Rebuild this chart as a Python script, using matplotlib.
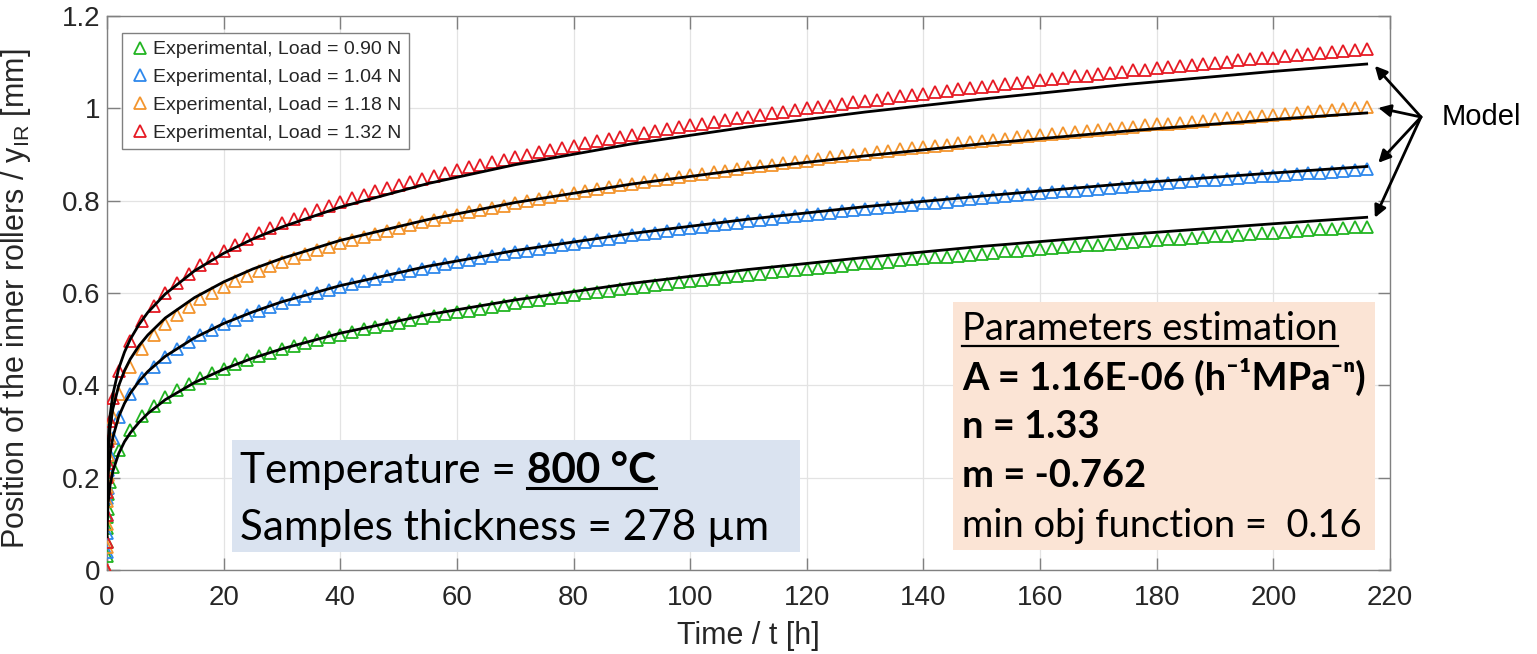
import matplotlib.pyplot as plt
from matplotlib.patches import Rectangle
from matplotlib.lines import Line2D
from matplotlib.ticker import MultipleLocator, FormatStrFormatter

plt.rcParams['font.family'] = ['Liberation Sans', 'DejaVu Sans']
plt.rcParams['mathtext.fontset'] = 'custom'
plt.rcParams['mathtext.rm'] = 'Liberation Sans'

# ---- data ----
# experimental time points [h]
t_exp = [0, 0.005, 0.01, 0.02, 0.05, 0.1, 0.25, 0.5, 1] + list(range(2, 217, 2))

y_090 = [0.0, 0.03, 0.06, 0.09, 0.114, 0.133, 0.164, 0.191, 0.223,
         0.261, 0.304, 0.333, 0.356, 0.374, 0.389, 0.403, 0.415, 0.426, 0.436,
         0.446, 0.455, 0.463, 0.471, 0.478, 0.485, 0.492, 0.498, 0.504, 0.510,
         0.515, 0.521, 0.526, 0.531, 0.536, 0.541, 0.545, 0.550, 0.554, 0.558,
         0.562, 0.566, 0.570, 0.574, 0.578, 0.582, 0.585, 0.589, 0.592, 0.595,
         0.599, 0.602, 0.605, 0.608, 0.611, 0.614, 0.617, 0.620, 0.623, 0.626,
         0.629, 0.631, 0.634, 0.637, 0.639, 0.642, 0.645, 0.647, 0.650, 0.652,
         0.654, 0.657, 0.659, 0.662, 0.664, 0.666, 0.668, 0.671, 0.673, 0.675,
         0.677, 0.679, 0.681, 0.683, 0.685, 0.687, 0.690, 0.692, 0.693, 0.695,
         0.697, 0.699, 0.701, 0.703, 0.705, 0.707, 0.709, 0.710, 0.712, 0.714,
         0.716, 0.718, 0.719, 0.721, 0.723, 0.724, 0.726, 0.728, 0.729, 0.731,
         0.733, 0.734, 0.736, 0.738, 0.739, 0.741, 0.742, 0.744]

y_104 = [0.0, 0.04, 0.08, 0.12, 0.155, 0.178, 0.216, 0.249, 0.287,
         0.331, 0.382, 0.415, 0.440, 0.461, 0.479, 0.494, 0.508, 0.520, 0.532,
         0.542, 0.552, 0.561, 0.570, 0.578, 0.586, 0.593, 0.600, 0.607, 0.613,
         0.619, 0.625, 0.631, 0.637, 0.642, 0.647, 0.652, 0.657, 0.662, 0.667,
         0.671, 0.676, 0.680, 0.684, 0.688, 0.692, 0.696, 0.700, 0.704, 0.707,
         0.711, 0.714, 0.718, 0.721, 0.725, 0.728, 0.731, 0.734, 0.738, 0.741,
         0.744, 0.747, 0.750, 0.752, 0.755, 0.758, 0.761, 0.764, 0.766, 0.769,
         0.772, 0.774, 0.777, 0.779, 0.782, 0.784, 0.787, 0.789, 0.791, 0.794,
         0.796, 0.798, 0.801, 0.803, 0.805, 0.807, 0.810, 0.812, 0.814, 0.816,
         0.818, 0.820, 0.822, 0.824, 0.826, 0.828, 0.830, 0.832, 0.834, 0.836,
         0.838, 0.840, 0.842, 0.844, 0.845, 0.847, 0.849, 0.851, 0.853, 0.854,
         0.856, 0.858, 0.860, 0.861, 0.863, 0.865, 0.866, 0.868]

y_118 = [0.0, 0.05, 0.10, 0.15, 0.179, 0.206, 0.249, 0.287, 0.331,
         0.382, 0.440, 0.479, 0.508, 0.532, 0.552, 0.570, 0.586, 0.600, 0.614,
         0.626, 0.637, 0.648, 0.658, 0.667, 0.676, 0.684, 0.693, 0.700, 0.708,
         0.715, 0.722, 0.728, 0.735, 0.741, 0.747, 0.753, 0.759, 0.764, 0.769,
         0.775, 0.780, 0.785, 0.789, 0.794, 0.799, 0.803, 0.808, 0.812, 0.816,
         0.821, 0.825, 0.829, 0.833, 0.836, 0.840, 0.844, 0.848, 0.851, 0.855,
         0.858, 0.862, 0.865, 0.868, 0.872, 0.875, 0.878, 0.881, 0.884, 0.887,
         0.890, 0.894, 0.896, 0.899, 0.902, 0.905, 0.908, 0.911, 0.913, 0.916,
         0.919, 0.921, 0.924, 0.927, 0.929, 0.932, 0.934, 0.937, 0.939, 0.942,
         0.944, 0.947, 0.949, 0.951, 0.954, 0.956, 0.958, 0.960, 0.963, 0.965,
         0.967, 0.969, 0.971, 0.973, 0.976, 0.978, 0.980, 0.982, 0.984, 0.986,
         0.988, 0.990, 0.992, 0.994, 0.996, 0.998, 1.000, 1.002]

y_132 = [0.0, 0.06, 0.12, 0.17, 0.201, 0.232, 0.280, 0.323, 0.373,
         0.430, 0.496, 0.539, 0.572, 0.599, 0.622, 0.642, 0.660, 0.676, 0.691,
         0.705, 0.718, 0.729, 0.741, 0.751, 0.761, 0.771, 0.780, 0.789, 0.797,
         0.805, 0.813, 0.820, 0.828, 0.835, 0.841, 0.848, 0.854, 0.860, 0.867,
         0.872, 0.878, 0.884, 0.889, 0.895, 0.900, 0.905, 0.910, 0.915, 0.919,
         0.924, 0.929, 0.933, 0.938, 0.942, 0.946, 0.951, 0.955, 0.959, 0.963,
         0.967, 0.970, 0.974, 0.978, 0.982, 0.985, 0.989, 0.993, 0.996, 1.000,
         1.003, 1.006, 1.010, 1.013, 1.016, 1.019, 1.022, 1.026, 1.029, 1.032,
         1.035, 1.038, 1.041, 1.044, 1.047, 1.049, 1.052, 1.055, 1.058, 1.061,
         1.063, 1.066, 1.069, 1.071, 1.074, 1.077, 1.079, 1.082, 1.084, 1.087,
         1.089, 1.092, 1.094, 1.096, 1.099, 1.101, 1.104, 1.106, 1.108, 1.110,
         1.113, 1.115, 1.117, 1.119, 1.122, 1.124, 1.126, 1.128]

# model curves (black lines)
t_mod = [0.01, 0.05, 0.2, 0.5, 1, 2, 3, 4, 5.5, 7, 10, 15, 20, 25, 30, 40,
         55, 70, 90, 110, 130, 150, 175, 200, 216]
m_090 = [0.072, 0.105, 0.146, 0.182, 0.214, 0.252, 0.278, 0.297, 0.320, 0.339,
         0.369, 0.406, 0.435, 0.459, 0.479, 0.513, 0.553, 0.585, 0.621, 0.651,
         0.677, 0.701, 0.727, 0.750, 0.764]
m_104 = [0.111, 0.155, 0.206, 0.249, 0.287, 0.332, 0.361, 0.383, 0.409, 0.430,
         0.463, 0.503, 0.534, 0.559, 0.581, 0.616, 0.658, 0.692, 0.729, 0.760,
         0.787, 0.810, 0.837, 0.860, 0.874]
m_118 = [0.143, 0.195, 0.255, 0.305, 0.349, 0.399, 0.432, 0.457, 0.486, 0.509,
         0.546, 0.590, 0.624, 0.652, 0.675, 0.714, 0.759, 0.796, 0.836, 0.869,
         0.897, 0.923, 0.951, 0.976, 0.990]
m_132 = [0.154, 0.211, 0.277, 0.332, 0.380, 0.436, 0.472, 0.500, 0.532, 0.558,
         0.598, 0.648, 0.686, 0.717, 0.743, 0.786, 0.837, 0.878, 0.923, 0.960,
         0.992, 1.020, 1.052, 1.080, 1.096]

loads = ['0.90', '1.04', '1.18', '1.32']
colors = ['#22B522', '#2E88EC', '#F3952E', '#E61A24']

# ---- figure ----
W, H = 1537, 654
fig = plt.figure(figsize=(W / 100, H / 100), dpi=100)


def fx(px):
    return px / W


def fy(py):
    return 1 - py / H


ax = fig.add_axes([fx(107), fy(570), (1390 - 107) / W, (570 - 16) / H])

exp_series = [y_090, y_104, y_118, y_132]
mod_series = [m_090, m_104, m_118, m_132]
for ys, c, ld in zip(exp_series, colors, loads):
    ax.plot(t_exp, ys, linestyle='none', marker='^', ms=9, mfc='none',
            mec=c, mew=1.3, label='Experimental, Load = %s N' % ld, zorder=3)
for ym in mod_series:
    ax.plot(t_mod, ym, color='k', lw=2.0, zorder=4)

ax.set_xlim(0, 220)
ax.set_ylim(0, 1.2)
ax.xaxis.set_major_locator(MultipleLocator(20))
ax.yaxis.set_major_locator(MultipleLocator(0.2))
ax.yaxis.set_major_formatter(FormatStrFormatter('%g'))
ax.grid(True, color='#e3e3e3', lw=0.9)
ax.set_axisbelow(True)
for s in ax.spines.values():
    s.set_color('#808080')
    s.set_linewidth(1.0)
ax.tick_params(direction='in', length=9, width=1, color='#808080',
               labelcolor='#262626', labelsize=20, top=True, right=True)
ax.tick_params(axis='x', pad=11)
ax.tick_params(axis='y', pad=5)

ax.set_xlabel('Time / t [h]', fontsize=22, color='#262626')
ax.set_ylabel('Position of the inner rollers / y$_\\mathregular{IR}$ [mm]',
              fontsize=22, color='#262626')
ax.xaxis.set_label_coords(0.5, -0.092)
ax.yaxis.set_label_coords(-0.058, 0.49)

leg = ax.legend(loc='upper left', bbox_to_anchor=((122 - 107) / 1283, (570 - 33) / 554),
                borderaxespad=0, fontsize=14, handlelength=1.0, handletextpad=0.2,
                borderpad=0.4, labelspacing=0.52, fancybox=False, framealpha=1,
                edgecolor='#808080', numpoints=1)
leg.get_frame().set_linewidth(1.0)
for txt in leg.get_texts():
    txt.set_color('#262626')

# ---- text boxes ----
box_font = ['Lato', 'DejaVu Sans']
fig.add_artist(Rectangle((fx(232), fy(552)), (800 - 232) / W, (552 - 440) / H,
                         transform=fig.transFigure, fc='#DAE3F0', ec='none', zorder=2))
fig.add_artist(Rectangle((fx(953), fy(550)), (1375 - 953) / W, (550 - 302) / H,
                         transform=fig.transFigure, fc='#FBE4D5', ec='none', zorder=2))

t_temp = fig.text(fx(240), fy(483), 'Temperature =', fontsize=34, family=box_font,
                  va='baseline', zorder=5)
t_temp2 = fig.text(fx(560), fy(483), '800 °C', fontsize=34, family=box_font,
                   fontweight='bold', va='baseline', zorder=5)
t_thick = fig.text(fx(240), fy(540), 'Samples thickness = 278 µm', fontsize=34,
                   family=box_font, va='baseline', zorder=5)

param_lines = [('Parameters estimation', 'normal', 340),
               ('A = 1.16E-06 (h\u207b\u00b9MPa\u207b\u207f)', 'bold', 390),
               ('n = 1.33', 'bold', 438),
               ('m = -0.762', 'bold', 487),
               ('min obj function =  0.16', 'normal', 537)]
p_texts = []
for s, wt, yb in param_lines:
    p_texts.append(fig.text(fx(962), fy(yb), s, fontsize=25, family=box_font,
                            fontweight=wt, va='baseline', zorder=5))

# scale box fonts to the widths seen in the picture
fig.canvas.draw()
r = fig.canvas.get_renderer()
k1 = 530 / t_thick.get_window_extent(r).width
for t in (t_temp, t_temp2, t_thick):
    t.set_fontsize(t.get_fontsize() * k1)
k2 = 377 / p_texts[0].get_window_extent(r).width
for t in p_texts:
    t.set_fontsize(t.get_fontsize() * k2)
fig.canvas.draw()
e1 = t_temp.get_window_extent(r)
fs_px = t_temp.get_fontsize() * 100 / 72
t_temp2.set_x((e1.x1 + 0.27 * fs_px) / W)
fig.canvas.draw()

# underlines
e2 = t_temp2.get_window_extent(r)
yb_t = fy(483) * H
fig.add_artist(Line2D([e2.x0 / W, e2.x1 / W], [(yb_t - 5) / H] * 2,
                      transform=fig.transFigure, color='k', lw=2.2, zorder=5))
e3 = p_texts[0].get_window_extent(r)
yb_p = fy(340) * H
fig.add_artist(Line2D([e3.x0 / W, e3.x1 / W], [(yb_p - 6) / H] * 2,
                      transform=fig.transFigure, color='k', lw=1.6, zorder=5))

# ---- "Model" arrows ----
fig.text(fx(1442), fy(117), 'Model', fontsize=21, va='center', ha='left')
tips = [(217.4, 1.092), (218.0, 1.001), (218.0, 0.882), (217.4, 0.763)]
for tx, ty in tips:
    ax.annotate('', xy=(tx, ty), xycoords='data', xytext=(fx(1421), fy(117)),
                textcoords='figure fraction', annotation_clip=False,
                arrowprops=dict(arrowstyle='-|>', color='k', lw=2,
                                mutation_scale=18, shrinkA=0, shrinkB=0))

fig.savefig('out.png', dpi=100)
